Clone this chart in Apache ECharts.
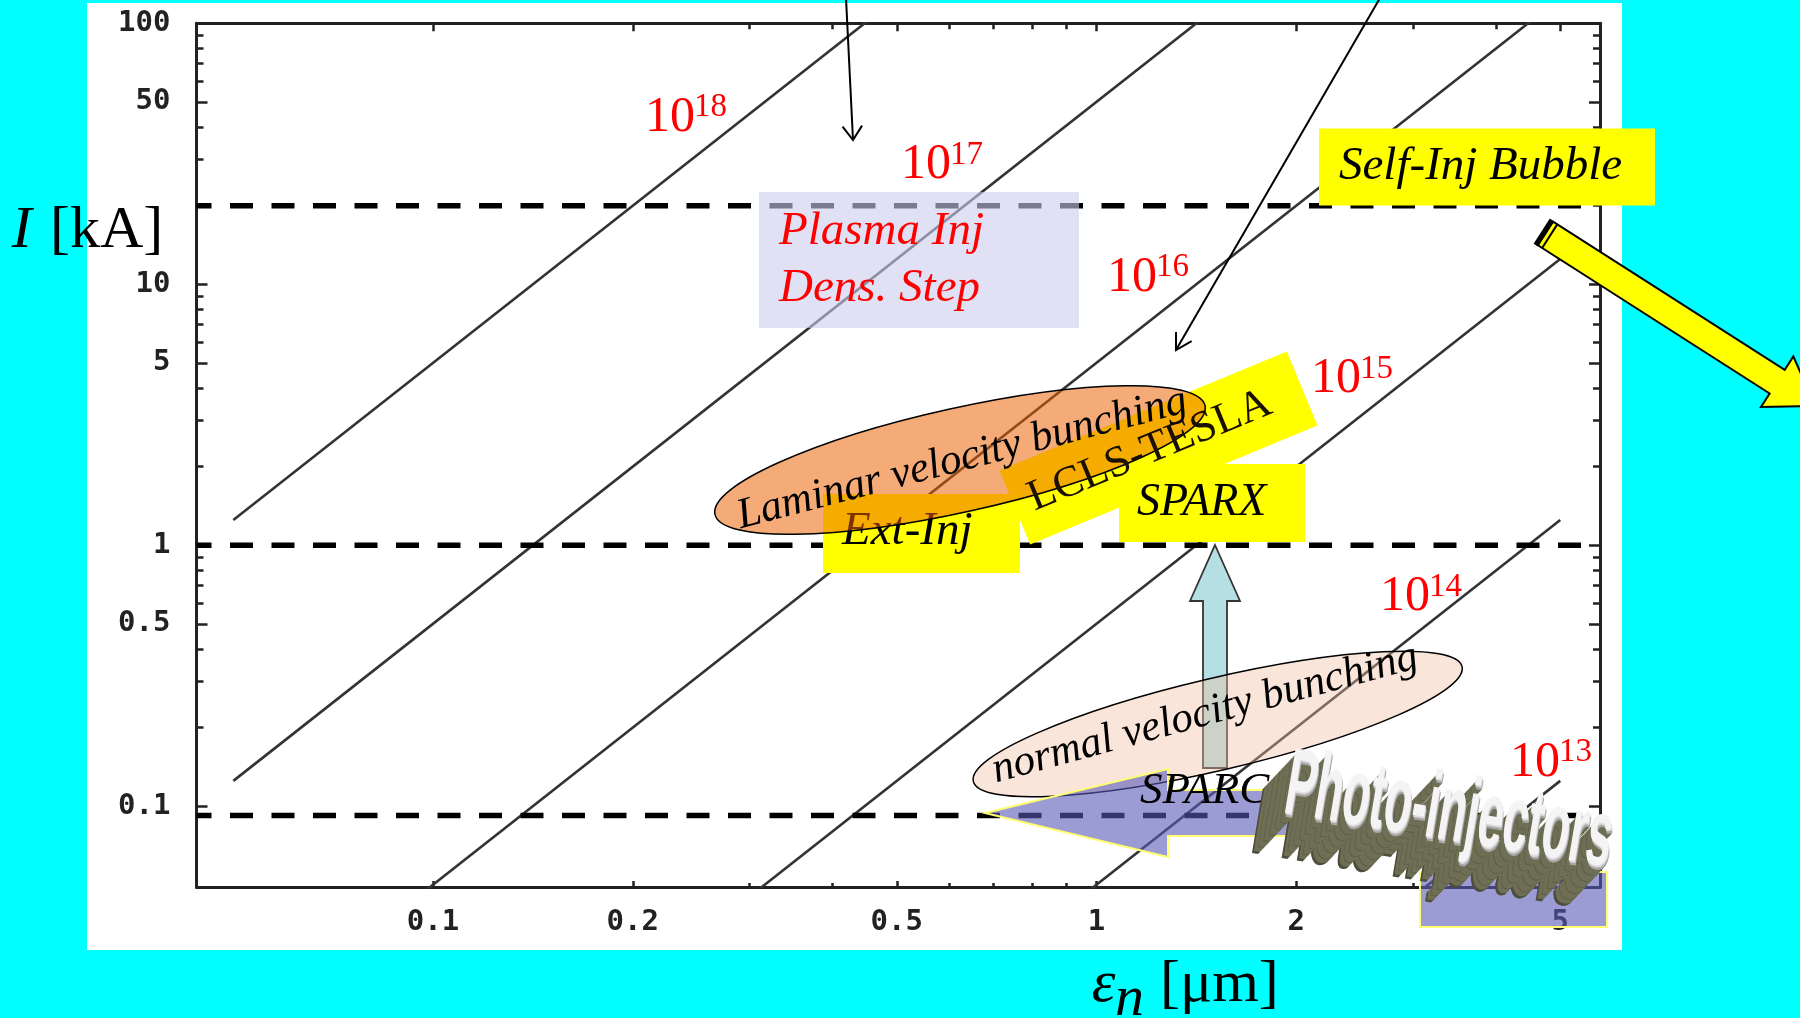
<!DOCTYPE html>
<html>
<head>
<meta charset="utf-8">
<script src="https://cdn.jsdelivr.net/npm/echarts@6/dist/echarts.min.js"></script>
<style>
  html, body { margin: 0; padding: 0; background: #00ffff; }
  #chart { width: 1800px; height: 1018px; }
</style>
</head>
<body>
<div id="chart"></div>
<script>
// Normalised brightness of the constant-brightness lines, B_n = 2 I / eps_n^2 (A/m^2)
const brightness = [1e18, 1e17, 1e16, 1e15, 1e14, 1e13];
// Emittance span over which each brightness line is drawn (µm)
const lineEmittance = [0.05, 5];
// Dashed current levels (kA) and the emittance span they cover (µm)
const refCurrents = [20, 1, 0.092];
const refEmittance = [0.044, 5.54];
// Plotted ranges
const xRange = [0.044, 5.74];   // eps_n, µm
const yRange = [0.049, 100];    // I, kA
// Tick marks
const xMajorTicks = [0.1, 0.2, 0.5, 1, 2, 5];
const xMinorTicks = [0.3, 0.4, 0.6, 0.7, 0.8, 0.9, 3, 4];
const yMajorTicks = [0.1, 0.5, 1, 5, 10, 50, 100];
const yMinorTicks = [0.2, 0.3, 0.4, 0.6, 0.7, 0.8, 0.9, 2, 3, 4, 6, 7, 8, 9, 20, 30, 40, 60, 70, 80, 90];

// ---- helpers -------------------------------------------------------------
const L = Math.log10;
const deg = d => d * Math.PI / 180;
const fmt = v => String(Number(Math.pow(10, v).toPrecision(6)));
// I [kA] on a line of brightness B at emittance eps [µm]
const currentAt = (B, eps) => B * eps * eps / 2 * 1e-12 * 1e-3;

const xMin = L(xRange[0]), xMax = L(xRange[1]);
const yMin = L(yRange[0]), yMax = L(yRange[1]);
const gridRect = { left: 196.5, top: 23.3, right: 200, bottom: 131 };
const ink = '#222';
const serif = "'Liberation Serif', 'Times New Roman', serif";
const tickFont = { fontFamily: "'DejaVu Sans Mono', monospace", fontWeight: 'bold', fontSize: 29, color: ink };
const frameLine = { show: true, onZero: false, lineStyle: { color: ink, width: 3 } };

function makeAxis(kind, gridIndex, position, ticks, len, framed, labelled, labelMargin) {
  const ax = {
    type: 'value', gridIndex, position,
    min: kind === 'x' ? xMin : yMin, max: kind === 'x' ? xMax : yMax,
    splitLine: { show: false },
    axisLine: framed ? frameLine : { show: false, onZero: false },
    axisTick: { show: true, inside: true, length: len, customValues: ticks.map(L),
                lineStyle: { color: ink, width: 2.5 } },
    axisLabel: { show: false }
  };
  if (labelled) {
    ax.axisLabel = Object.assign({ show: true, customValues: ticks.map(L), formatter: fmt,
                                   margin: labelMargin }, tickFont);
  }
  return ax;
}

// ---- series --------------------------------------------------------------
const series = [];
brightness.forEach(B => {
  series.push({
    type: 'line', xAxisIndex: 0, yAxisIndex: 0, symbol: 'none', silent: true, clip: true, z: 2,
    data: lineEmittance.map(e => [L(e), L(currentAt(B, e))]),
    lineStyle: { color: '#333', width: 2.6 }
  });
});
refCurrents.forEach(c => {
  series.push({
    type: 'line', xAxisIndex: 0, yAxisIndex: 0, symbol: 'none', silent: true, clip: true, z: 3,
    data: refEmittance.map(e => [L(e), L(c)]),
    lineStyle: { color: '#000', width: 5.5, type: [23, 18.5], dashOffset: 8 }
  });
});

// ---- annotations ---------------------------------------------------------
const graphics = [];
let zc = 100;
function add(el) { el.z = zc++; el.silent = true; graphics.push(el); return el; }

function text(x, y, str, size, opt) {
  opt = opt || {};
  return add({
    type: 'text', x, y, rotation: opt.rot ? deg(opt.rot) : 0,
    scaleX: opt.sx || 1, scaleY: opt.sy || 1,
    style: {
      text: str, fontFamily: opt.family || serif, fontSize: size,
      fontStyle: opt.italic ? 'italic' : 'normal', fontWeight: opt.weight || 'normal',
      fill: opt.color || '#000', stroke: opt.stroke || null, lineWidth: opt.lw || 0,
      align: opt.align || 'left', textAlign: opt.align || 'left',
      verticalAlign: 'middle', textVerticalAlign: 'middle'
    }
  });
}
function rect(x, y, w, h, fill, stroke, lw) {
  return add({ type: 'rect', shape: { x, y, width: w, height: h },
               style: { fill, stroke: stroke || null, lineWidth: lw || 0 } });
}
function polygon(points, fill, stroke, lw) {
  return add({ type: 'polygon', shape: { points },
               style: { fill, stroke: stroke || null, lineWidth: lw || 0 } });
}
function polyline(points, stroke, lw) {
  return add({ type: 'polyline', shape: { points },
               style: { fill: null, stroke, lineWidth: lw, lineJoin: 'miter' } });
}
function thinArrow(from, to, barb, half) {
  polyline([from, to], '#000', 2);
  const dx = to[0] - from[0], dy = to[1] - from[1], len = Math.hypot(dx, dy);
  const ux = dx / len, uy = dy / len, a = deg(half);
  const b = s => [to[0] - barb * (ux * Math.cos(s * a) - uy * Math.sin(s * a)),
                  to[1] - barb * (ux * Math.sin(s * a) + uy * Math.cos(s * a))];
  polyline([b(1), to, b(-1)], '#000', 2);
}

// panel behind the plot
graphics.push({ type: 'rect', z: -10, silent: true, shape: { x: 87, y: 3, width: 1535, height: 947 },
                style: { fill: '#ffffff' } });

// plasma injection (density step)
rect(759, 192, 320, 136, 'rgba(205,205,240,0.6)');
text(779, 232, 'Plasma Inj', 47, { italic: true, color: '#ff0000' });
text(779, 289, 'Dens. Step', 47, { italic: true, color: '#ff0000' });

// self injection in the bubble regime, pointing off the chart
rect(1319, 128.5, 336, 77, '#ffff00');
text(1339, 167, 'Self-Inj Bubble', 47, { italic: true });
(function () {
  const T = [1545.5, 233.5], a = deg(32.6);
  const u = [Math.cos(a), Math.sin(a)], n = [-Math.sin(a), Math.cos(a)];
  const P = (s, t) => [T[0] + u[0] * s + n[0] * t, T[1] + u[1] * s + n[1] * t];
  const sh = 14, hh = 30, hb = 275, tip = 320;
  polygon([P(0, -sh), P(hb, -sh), P(hb, -hh), P(tip, 0), P(hb, hh), P(hb, sh), P(0, sh)],
          '#ffff00', '#000', 2);
  polyline([P(-2, -sh - 1), P(-2, sh + 1)], '#000', 5);
  polyline([P(5, -sh), P(5, sh)], '#000', 2);
})();

// external injection / linac boxes
rect(823, 494, 197, 79, '#ffff00');
text(842, 532, 'Ext-Inj', 47, { italic: true });
add({ type: 'rect', x: 1158.5, y: 448, rotation: deg(22.5),
      shape: { x: -155.5, y: -40, width: 311, height: 80 }, style: { fill: '#ffff00' } });
rect(1119, 464, 186, 78, '#ffff00');
text(1137, 503, 'SPARX', 46, { italic: true });

// laminar velocity bunching
add({ type: 'ellipse', x: 960, y: 460, rotation: deg(12.5), shape: { cx: 0, cy: 0, rx: 251, ry: 52 },
      style: { fill: 'rgba(236,96,0,0.53)', stroke: '#000', lineWidth: 1.5 } });
text(1150, 451, 'LCLS-TESLA', 44, { rot: 22.3, align: 'center', color: '#1a1000' });
text(962, 459, 'Laminar velocity bunching', 43, { italic: true, rot: 14.6, align: 'center' });

// SPARC -> SPARX upgrade arrow
polygon([[1215, 545], [1240, 601], [1227, 601], [1227, 768], [1203, 768], [1203, 601], [1190, 601]],
        '#b5dfe3', '#333', 1.8);

// normal velocity bunching
add({ type: 'ellipse', x: 1217.7, y: 724, rotation: deg(13.2), shape: { cx: 0, cy: 0, rx: 251, ry: 46 },
      style: { fill: 'rgba(240,190,160,0.4)', stroke: '#000', lineWidth: 1.5 } });
text(1205, 714, 'normal velocity bunching', 43, { italic: true, rot: 15.2, align: 'center' });

// photo-injector region
polygon([[985, 813], [1168, 769], [1168, 790], [1300, 790], [1300, 836], [1168, 836], [1168, 857]],
        'rgba(90,90,185,0.6)', '#ffff70', 2);
rect(1420, 872, 187, 55, 'rgba(90,90,185,0.6)', '#ffff70', 2);
text(1140, 791.5, 'SPARC', 45, { italic: true });

(function () {
  const c = [1450, 818], depth = [-34, 36], steps = 48;
  const base = { family: "'Liberation Sans', Arial, sans-serif", weight: 'bold', rot: -9.5, sy: 2.1, align: 'center' };
  for (let k = steps; k >= 1; k--) {
    const t = k / steps;
    const shade = k > steps - 3 ? '#4e4e3c' : (k % 8 === 0 ? '#5c5c46' : '#6f6f56');
    text(c[0] + depth[0] * t, c[1] + depth[1] * t, 'Photo-injectors', 45,
         Object.assign({}, base, { color: shade }));
  }
  // lit front face: grey base with a lighter upper sheen
  text(c[0], c[1], 'Photo-injectors', 45, Object.assign({}, base, { color: '#a9a9a9' }));
  text(c[0] - 0.5, c[1] - 2.5, 'Photo-injectors', 45, Object.assign({}, base, { color: '#dcdcdc' }));
  text(c[0] - 1, c[1] - 4.5, 'Photo-injectors', 45, Object.assign({}, base, { color: '#f4f4f4' }));
})();

// brightness labels on the constant-brightness lines
const labelPos = [[645, 117.5], [901, 165], [1107, 277.5], [1311, 379], [1380, 597], [1510, 762.5]];
brightness.forEach((B, i) => {
  const p = labelPos[i];
  text(p[0], p[1], '10', 50, { color: '#ff0000' });
  text(p[0] + 49, p[1] - 10, String(Math.round(L(B))), 33, { color: '#ff0000' });
});

// pointers from the slide header
thinArrow([846, -2], [853, 140], 17, 35);
thinArrow([1380, -2], [1176, 350], 18, 30);

// axis titles
text(11.7, 231, 'I', 60, { italic: true });
text(50, 231, '[kA]', 60);
text(1091.7, 985, 'ε', 60, { italic: true });
text(1115, 1000, 'n', 58, { italic: true });
text(1160, 985, '[μm]', 60);

// ---- chart ---------------------------------------------------------------
const chart = echarts.init(document.getElementById('chart'), null, { renderer: 'canvas', width: 1800, height: 1018 });
chart.setOption({
  animation: false,
  backgroundColor: '#00ffff',
  grid: [
    Object.assign({ show: false, containLabel: false, outerBoundsMode: 'none' }, gridRect),
    Object.assign({ show: false, containLabel: false, outerBoundsMode: 'none' }, gridRect)
  ],
  xAxis: [
    makeAxis('x', 0, 'bottom', xMajorTicks, 6, true, true, 21),
    makeAxis('x', 0, 'top', xMajorTicks, 8, true, false),
    makeAxis('x', 1, 'bottom', xMinorTicks, 4, false, false),
    makeAxis('x', 1, 'top', xMinorTicks, 6, false, false)
  ],
  yAxis: [
    makeAxis('y', 0, 'left', yMajorTicks, 11, true, true, 26),
    makeAxis('y', 0, 'right', yMajorTicks, 11, true, false),
    makeAxis('y', 1, 'left', yMinorTicks, 7, false, false),
    makeAxis('y', 1, 'right', yMinorTicks, 7, false, false)
  ],
  series,
  graphic: { elements: graphics }
});
</script>
</body>
</html>
